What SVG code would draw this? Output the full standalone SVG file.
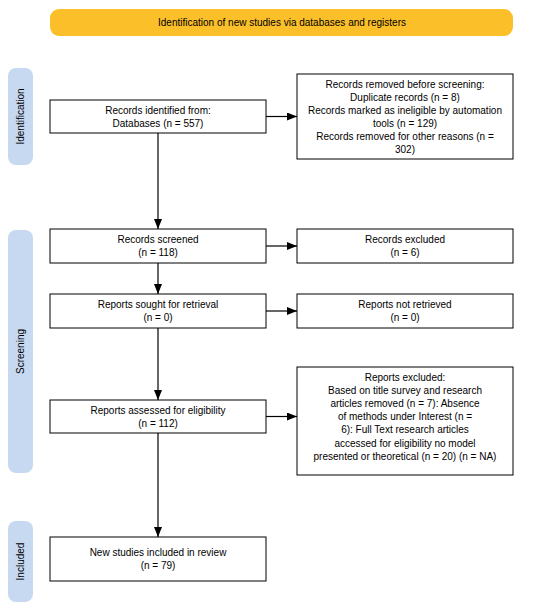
<svg xmlns="http://www.w3.org/2000/svg" width="550" height="610" viewBox="0 0 550 610">
<style>
text{font-family:"Liberation Sans",Arial,sans-serif;font-size:10px;fill:#000;text-anchor:middle}
.box{fill:#fff;stroke:#000;stroke-width:1}
.side{fill:#C6D9F1}
.conn{stroke:#000;stroke-width:1.2;fill:none}
</style>
<defs>
<marker id="ah" markerWidth="10" markerHeight="8" refX="10" refY="4" orient="auto" markerUnits="userSpaceOnUse">
<path d="M0,0 L10,4 L0,8 Z" fill="#000"/>
</marker>
</defs>
<rect width="550" height="610" fill="#fff"/>
<g id="banner">
<rect x="50" y="9" width="463" height="27" rx="9" fill="#FBBF2A"/>
<text x="282" y="26">Identification of new studies via databases and registers</text>
</g>
<g id="side-identification">
<rect class="side" x="8" y="68" width="25" height="97" rx="8"/>
<text transform="translate(24,116.5) rotate(-90)">Identification</text>
</g>
<g id="side-screening">
<rect class="side" x="8" y="230" width="25" height="243" rx="8"/>
<text transform="translate(24,351.5) rotate(-90)">Screening</text>
</g>
<g id="side-included">
<rect class="side" x="8" y="521" width="25" height="81" rx="8"/>
<text transform="translate(24,561.5) rotate(-90)">Included</text>
</g>
<g id="records-identified">
<rect class="box" x="50" y="100" width="216" height="33"/>
<text x="158" y="113.5">Records identified from:</text>
<text x="158" y="126.5">Databases (n = 557)</text>
</g>
<g id="records-removed">
<rect class="box" x="297" y="74" width="216" height="85"/>
<text x="405" y="88">Records removed before screening:</text>
<text x="405" y="101">Duplicate records (n = 8)</text>
<text x="405" y="114">Records marked as ineligible by automation</text>
<text x="405" y="127">tools (n = 129)</text>
<text x="405" y="140">Records removed for other reasons (n =</text>
<text x="405" y="152.5">302)</text>
</g>
<g id="records-screened">
<rect class="box" x="50" y="229" width="216" height="34"/>
<text x="158" y="243">Records screened</text>
<text x="158" y="256">(n = 118)</text>
</g>
<g id="records-excluded">
<rect class="box" x="297" y="229" width="216" height="34"/>
<text x="405" y="243">Records excluded</text>
<text x="405" y="256">(n = 6)</text>
</g>
<g id="reports-sought">
<rect class="box" x="50" y="294" width="216" height="34"/>
<text x="158" y="308">Reports sought for retrieval</text>
<text x="158" y="321">(n = 0)</text>
</g>
<g id="reports-not-retrieved">
<rect class="box" x="297" y="294" width="216" height="34"/>
<text x="405" y="308">Reports not retrieved</text>
<text x="405" y="321">(n = 0)</text>
</g>
<g id="reports-assessed">
<rect class="box" x="50" y="400" width="216" height="33"/>
<text x="158" y="413.5">Reports assessed for eligibility</text>
<text x="158" y="426.5">(n = 112)</text>
</g>
<g id="reports-excluded">
<rect class="box" x="297" y="367" width="216" height="108"/>
<text x="405" y="380.5">Reports excluded:</text>
<text x="405" y="393.7">Based on title survey and research</text>
<text x="405" y="406.9">articles removed (n = 7): Absence</text>
<text x="405" y="420.1">of methods under Interest (n =</text>
<text x="405" y="433.3">6): Full Text research articles</text>
<text x="405" y="446.5">accessed for eligibility no model</text>
<text x="405" y="459.7">presented or theoretical (n = 20) (n = NA)</text>
</g>
<g id="new-studies">
<rect class="box" x="50" y="537" width="216" height="44"/>
<text x="158" y="556">New studies included in review</text>
<text x="158" y="569">(n = 79)</text>
</g>
<g id="connectors">
<line class="conn" x1="158" y1="133" x2="158" y2="229" marker-end="url(#ah)"/>
<line class="conn" x1="266" y1="116.5" x2="297" y2="116.5" marker-end="url(#ah)"/>
<line class="conn" x1="266" y1="246" x2="297" y2="246" marker-end="url(#ah)"/>
<line class="conn" x1="158" y1="263" x2="158" y2="294" marker-end="url(#ah)"/>
<line class="conn" x1="266" y1="311" x2="297" y2="311" marker-end="url(#ah)"/>
<line class="conn" x1="158" y1="328" x2="158" y2="400" marker-end="url(#ah)"/>
<line class="conn" x1="266" y1="416.5" x2="297" y2="416.5" marker-end="url(#ah)"/>
<line class="conn" x1="158" y1="433" x2="158" y2="537" marker-end="url(#ah)"/>
</g>
</svg>
